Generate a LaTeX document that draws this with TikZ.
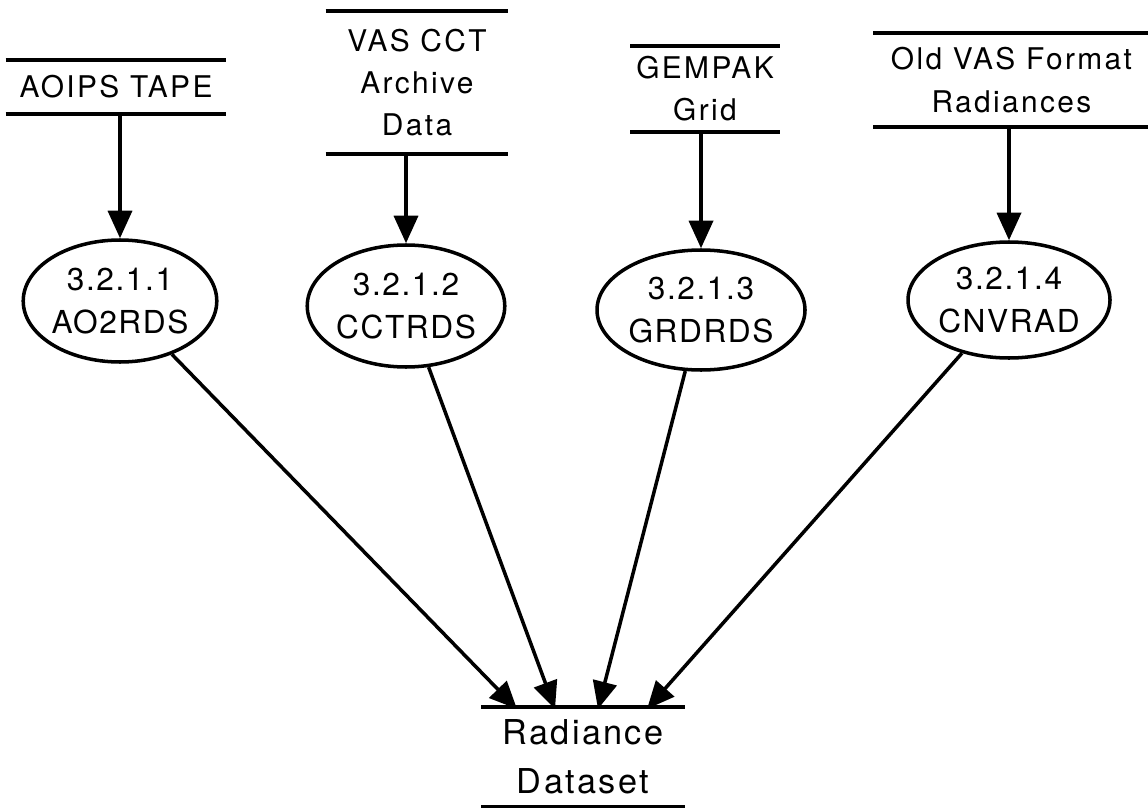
\documentclass[tikz,border=0pt]{standalone}
\usepackage{fontspec}
\usetikzlibrary{shapes.geometric,arrows.meta}
\newfontfamily\storefont[LetterSpace=8]{TeX Gyre Heros}
\newfontfamily\procfont[LetterSpace=5]{TeX Gyre Heros}
\newfontfamily\dsfont[LetterSpace=7]{TeX Gyre Heros}
\begin{document}
\begin{tikzpicture}[line width=2pt,
    >={Triangle[length=0.55cm,width=0.48cm]},
    store/.style={inner sep=0pt, align=center, font=\storefont\fontsize{17}{24}\selectfont},
    proc/.style={draw, ellipse, inner sep=0pt, align=center, font=\procfont\fontsize{18}{24}\selectfont}]
      \useasboundingbox (0,0) rectangle (22.96,-16.14);
      \node[store, minimum width=4.34cm, minimum height=1.0cm] (s1) at (2.32,-1.74) {AOIPS TAPE};
      \node[store, minimum width=3.58cm, minimum height=2.78cm] (s2) at (8.34,-1.65) {VAS CCT\\Archive\\Data};
      \node[store, minimum width=2.92cm, minimum height=1.64cm] (s3) at (14.10,-1.78) {GEMPAK\\Grid};
      \node[store, minimum width=5.46cm, minimum height=1.80cm] (s4) at (20.23,-1.60) {Old VAS Format\\Radiances};
      \node[store, minimum width=4.00cm, minimum height=1.92cm, font=\dsfont\fontsize{19.5}{28}\selectfont] (s5) at (11.66,-15.14) {Radiance\\Dataset};
      \foreach \s in {s1,s2,s3,s4,s5} {
        \draw (\s.north west) -- (\s.north east);
        \draw (\s.south west) -- (\s.south east);
      }
      \node[proc, minimum width=3.68cm, minimum height=2.44cm] (p1) at (2.40,-6.02) {3.2.1.1\\AO2RDS};
      \node[proc, minimum width=3.76cm, minimum height=2.44cm] (p2) at (8.12,-6.12) {3.2.1.2\\CCTRDS};
      \node[proc, minimum width=4.16cm, minimum height=2.40cm] (p3) at (14.02,-6.20) {3.2.1.3\\GRDRDS};
      \node[proc, minimum width=4.04cm, minimum height=2.32cm] (p4) at (20.18,-6.00) {3.2.1.4\\CNVRAD};
      \coordinate (d1) at (10.34,-14.18); \coordinate (d2) at (11.10,-14.18);
      \coordinate (d3) at (11.96,-14.18); \coordinate (d4) at (12.94,-14.18);
      \draw[->] (p1 |- s1.south) -- (p1);
      \draw[->] (p2 |- s2.south) -- (p2);
      \draw[->] (p3 |- s3.south) -- (p3);
      \draw[->] (p4 |- s4.south) -- (p4);
      \draw[->] (p1) -- (d1);
      \draw[->] (p2) -- (d2);
      \draw[->] (p3) -- (d3);
      \draw[->] (p4) -- (d4);
\end{tikzpicture}
\end{document}
